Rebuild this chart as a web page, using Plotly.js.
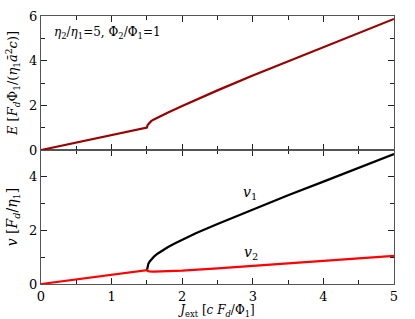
<!DOCTYPE html>
<html>
<head>
<meta charset="utf-8">
<script src="https://cdn.plot.ly/plotly-3.0.1.min.js"></script>
<style>
  html, body { margin: 0; padding: 0; background: #fff; }
  #chart { width: 415px; height: 319px; }
</style>
</head>
<body>
<div id="chart"></div>
<script>
'use strict'
/* values */
var jE = [0, 1.5, 1.51, 1.53, 1.56, 1.6, 1.7, 1.8, 2.0, 2.25, 2.5, 3.0, 3.5, 4.0, 4.5, 5.0];
var energy = [0, 1.0, 1.12, 1.2, 1.29, 1.37, 1.53, 1.68, 1.97, 2.33, 2.67, 3.34, 3.97, 4.6, 5.23, 5.87];

var jV1 = [1.5, 1.505, 1.51, 1.52, 1.54, 1.57, 1.6, 1.65, 1.7, 1.8, 1.9, 2.0, 2.2, 2.5, 3.0, 3.5, 4.0, 4.5, 5.0];
var v1 = [0.5, 0.62, 0.68, 0.75, 0.84, 0.94, 1.02, 1.13, 1.22, 1.38, 1.52, 1.65, 1.9, 2.24, 2.79, 3.31, 3.82, 4.33, 4.85];

var jV2 = [0, 1.5, 1.51, 1.53, 1.6, 1.8, 2.0, 2.5, 3.0, 4.0, 5.0];
var v2 = [0, 0.52, 0.49, 0.47, 0.465, 0.48, 0.5, 0.58, 0.67, 0.86, 1.05];

var serif = 'DejaVu Serif';

var traceE = {
    type: 'scatter', mode: 'lines', x: jE, y: energy,
    xaxis: 'x2', yaxis: 'y2',
    line: {color: '#990000', width: 2.2}
};
var traceV1 = {
    type: 'scatter', mode: 'lines', x: jV1, y: v1,
    xaxis: 'x', yaxis: 'y',
    line: {color: '#000000', width: 2.2}
};
var traceV2 = {
    type: 'scatter', mode: 'lines', x: jV2, y: v2,
    xaxis: 'x', yaxis: 'y',
    line: {color: '#ff0000', width: 2.2}
};

function axisBase() {
    return {
        showline: true, linecolor: '#555', linewidth: 1,
        mirror: 'allticks', ticks: 'inside', ticklen: 6, tickwidth: 1.2, tickcolor: '#222',
        showgrid: false, zeroline: false,
        tickfont: {family: serif, size: 13, color: '#000'},
        minor: {ticks: 'inside', ticklen: 4, tickcolor: '#222', tickwidth: 1, dtick: 0.5, showgrid: false}
    };
}

var xBottom = axisBase();
xBottom.range = [0, 5];
xBottom.dtick = 1;
xBottom.anchor = 'y';
xBottom.ticklabelstandoff = 0;
xBottom.title = {text: '<i>J</i><sub>ext</sub> [<i>c F<sub>d</sub></i>/Φ<sub>1</sub>]', font: {family: serif, size: 12, color: '#000'}, standoff: 3};

var xTop = axisBase();
xTop.range = [0, 5];
xTop.dtick = 1;
xTop.anchor = 'y2';
xTop.matches = 'x';
xTop.showticklabels = false;

var yBottom = axisBase();
yBottom.domain = [0, 0.5];
yBottom.range = [0, 5];
yBottom.tickvals = [0, 2, 4];
yBottom.minor.tickvals = [1, 3, 5];
delete yBottom.minor.dtick;
yBottom.anchor = 'x';
yBottom.title = {text: '<i>v</i> [<i>F<sub>d</sub></i>/<i>η</i><sub>1</sub>]', font: {family: serif, size: 14, color: '#000'}, standoff: 8};

var yTop = axisBase();
yTop.domain = [0.5, 1];
yTop.range = [0, 6];
yTop.tickvals = [0, 2, 4, 6];
yTop.minor.tickvals = [1, 3, 5];
delete yTop.minor.dtick;
yTop.anchor = 'x2';
yTop.title = {text: '<i>E</i> [<i>F<sub>d</sub></i>Φ<sub>1</sub>/(<i>η</i><sub>1</sub><i>ā</i><sup>2</sup><i>c</i>)]', font: {family: serif, size: 13, color: '#000'}, standoff: 8};

var layout = {
    width: 415,
    height: 319,
    margin: {l: 41, r: 21, t: 16, b: 35, pad: 0},
    paper_bgcolor: '#fff',
    plot_bgcolor: '#fff',
    showlegend: false,
    font: {family: serif, color: '#000'},
    xaxis: xBottom,
    xaxis2: xTop,
    yaxis: yBottom,
    yaxis2: yTop,
    annotations: [
        {xref: 'x2', yref: 'y2', x: 0.15, y: 5.25, xanchor: 'left', showarrow: false,
         text: '<i>η</i><sub>2</sub>/<i>η</i><sub>1</sub>=5, Φ<sub>2</sub>/Φ<sub>1</sub>=1',
         font: {family: serif, size: 12, color: '#000'}},
        {xref: 'x', yref: 'y', x: 2.96, y: 3.4, showarrow: false,
         text: '<i>v</i><sub>1</sub>', font: {family: serif, size: 14, color: '#000'}},
        {xref: 'x', yref: 'y', x: 2.98, y: 1.16, showarrow: false,
         text: '<i>v</i><sub>2</sub>', font: {family: serif, size: 14, color: '#000'}}
    ]
};

Plotly.newPlot('chart', [traceE, traceV1, traceV2], layout, {displayModeBar: false, staticPlot: true});
</script>
</body>
</html>
